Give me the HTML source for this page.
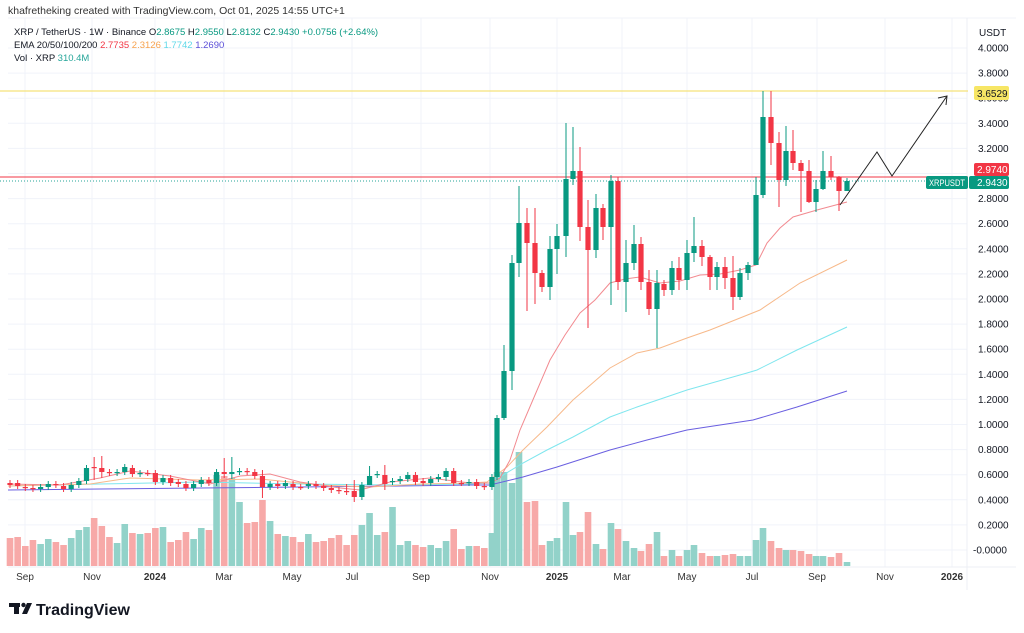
<!DOCTYPE html>
<html><head><meta charset="utf-8">
<style>
html,body{margin:0;padding:0;background:#fff;}
body{width:1024px;height:633px;overflow:hidden;position:relative;font-family:"Liberation Sans",sans-serif;}
svg{position:absolute;left:0;top:0;}
</style></head>
<body>
<svg id="s" width="1024" height="633" viewBox="0 0 1024 633" xmlns="http://www.w3.org/2000/svg" font-family="Liberation Sans, sans-serif">
<rect x="0" y="0" width="1024" height="633" fill="#fff"/>
<g id="grid" stroke="#f0f3fa" stroke-width="1"></g>
<line x1="8" y1="18" x2="1016" y2="18" stroke="#f0f3fa"/>
<line x1="967" y1="18" x2="967" y2="590" stroke="#eceff4"/>
<line x1="8" y1="567" x2="1016" y2="567" stroke="#eceff4"/>
<g id="vol"></g>
<line x1="0" y1="91" x2="968" y2="91" stroke="#f5e27a" stroke-width="1.2"/>
<line x1="0" y1="177" x2="968" y2="177" stroke="#f23645" stroke-width="1.3" opacity="0.8"/>
<line x1="0" y1="181" x2="968" y2="181" stroke="#26a69a" stroke-width="1" stroke-dasharray="1 2"/>
<g id="ema" fill="none" stroke-width="1"></g>
<g id="candles"></g>
<polyline points="840,205 877,152 892,176 947,96" fill="none" stroke="#222" stroke-width="1"/>
<polyline points="938,98 947,96 946,105" fill="none" stroke="#222" stroke-width="1"/>
<g id="axis" font-size="10" fill="#131722"></g>
<text x="979" y="36" font-size="10" fill="#131722">USDT</text>
<rect x="974" y="86" width="35" height="14" rx="2" fill="#f7e665"/>
<text x="977" y="97" font-size="10" fill="#131722">3.6529</text>
<rect x="974" y="163" width="35" height="13" rx="2" fill="#f23645"/>
<text x="977" y="173" font-size="10" fill="#fff">2.9740</text>
<rect x="926" y="176" width="42" height="13" rx="2" fill="#089981"/>
<text x="929" y="186" font-size="9.5" fill="#fff" textLength="36" lengthAdjust="spacingAndGlyphs">XRPUSDT</text>
<rect x="969" y="176" width="40" height="13" rx="2" fill="#089981"/>
<text x="977" y="186" font-size="10" fill="#fff">2.9430</text>
<g id="time" font-size="10" fill="#333" text-anchor="middle"></g>
<text x="8" y="14" font-size="10.5" fill="#333">khafretheking created with TradingView.com, Oct 01, 2025 14:55 UTC+1</text>
<text x="14" y="35" font-size="9.5" fill="#131722">XRP / TetherUS · 1W · Binance  O<tspan fill="#089981">2.8675</tspan>  H<tspan fill="#089981">2.9550</tspan>  L<tspan fill="#089981">2.8132</tspan>  C<tspan fill="#089981">2.9430</tspan>  <tspan fill="#089981">+0.0756 (+2.64%)</tspan></text>
<text x="14" y="48" font-size="9.5" fill="#131722">EMA 20/50/100/200  <tspan fill="#f23645">2.7735</tspan>  <tspan fill="#f7a24e">2.3126</tspan>  <tspan fill="#5fd8e8">1.7742</tspan>  <tspan fill="#5b4fd8">1.2690</tspan></text>
<text x="14" y="61" font-size="9.5" fill="#131722">Vol · XRP  <tspan fill="#26a69a">310.4M</tspan></text>
<g fill="#131722">
<rect x="9" y="603" width="11" height="4"/>
<rect x="14" y="603" width="5" height="11"/>
<circle cx="23.5" cy="605" r="2.2"/>
<polygon points="27,603 32,603 27,614 22,614"/>
</g>
<text x="36" y="615" font-size="16" font-weight="bold" fill="#131722">TradingView</text>
</svg>
<script>
var NS="http://www.w3.org/2000/svg";
function el(p,t,a){var e=document.createElementNS(NS,t);for(var k in a)e.setAttribute(k,a[k]);document.getElementById(p).appendChild(e);return e;}
[25,92,155,224,292,352,421,490,557,622,687,752,817,885,952].forEach(function(x){el("grid","line",{x1:x,y1:18,x2:x,y2:567});});
for(var p=0;p<=20;p++){var y=550-p*25.1;el("grid","line",{x1:8,y1:y,x2:967,y2:y});}
var labs=["-0.0000","0.2000","0.4000","0.6000","0.8000","1.0000","1.2000","1.4000","1.6000","1.8000","2.0000","2.2000","2.4000","2.6000","2.8000","3.0000","3.2000","3.4000","3.6000","3.8000","4.0000"];
labs.forEach(function(l,i){if(i==15)return;var y=550-i*25.1;var t=el("axis","text",{x:l[0]=="-"?973:978,y:y+3.5});t.textContent=l;});
[[25,"Sep"],[92,"Nov"],[155,"2024",1],[224,"Mar"],[292,"May"],[352,"Jul"],[421,"Sep"],[490,"Nov"],[557,"2025",1],[622,"Mar"],[687,"May"],[752,"Jul"],[817,"Sep"],[885,"Nov"],[952,"2026",1]].forEach(function(a){var t=el("time","text",{x:a[0],y:580});if(a[2])t.setAttribute("font-weight","bold");t.textContent=a[1];});
var early=[[483,485],[483,486],[487,488],[488,489],[489,487],[487,484],[484,485],[486,489],[489,485],[485,481],[481,468],[467,467],[468,472],[472,473],[473,472],[472,467],[468,474],[474,473],[473,473],[473,482],[482,478],[478,483],[482,484],[484,488],[488,484],[484,480],[480,483],[483,472],[472,474],[474,472],[472,471],[471,472],[472,476],[476,487],[487,484],[484,486],[486,483],[484,487],[487,487],[486,484],[484,486],[486,488],[488,490],[490,491],[491,491],[491,497],[497,485],[485,476],[475,474],[475,484],[482,481],[481,479],[479,475],[475,482],[481,483],[483,479],[479,477],[477,471],[471,483],[483,483],[483,482],[482,486],[486,487],[487,477]];
var ewick={11:[457,480],12:[456,478],28:[458,478],29:[457,479],33:[470,498],45:[480,502],47:[466,485],49:[465,490],44:[484,495],57:[468,481]};
var C=[];
early.forEach(function(c,i){var x=10+7.65*i;var h=Math.min(c[0],c[1])-3,l=Math.max(c[0],c[1])+3;if(ewick[i]){h=ewick[i][0];l=ewick[i][1];}C.push([x,c[0],c[1],h,l]);});
var late=[[497,477,418,415,480],[504,418,371,345,420],[512,371,263,255,390],[519,263,223,186,277],[527,223,243,208,311],[535,243,273,208,304],[542,273,287,270,292],[550,287,249,236,300],[557,249,236,224,274],[566,236,179,123,257],[573,179,171,127,185],[580,171,227,147,241],[588,227,250,200,328],[596,250,208,194,258],[603,208,227,204,240],[611,227,181,175,305],[618,181,282,177,290],[626,282,263,240,312],[634,263,244,225,270],[641,244,282,237,290],[649,282,309,270,315],[657,309,283,270,348],[664,284,290,280,296],[672,290,268,261,295],[679,268,280,257,290],[687,280,253,240,290],[694,253,246,217,262],[702,246,257,240,266],[710,257,277,255,290],[717,277,267,262,290],[725,267,278,257,289],[733,278,297,256,310],[740,297,273,268,300],[748,273,265,262,280],[756,265,195,177,265],[763,195,117,91,198],[771,117,143,91,165],[779,143,180,132,207],[786,180,151,126,186],[793,151,163,130,170],[801,163,171,160,212],[809,171,202,160,203],[816,202,189,180,212],[823,189,171,151,190],[831,171,177,156,180],[839,177,191,176,211],[847,191,181,178,191]];
late.forEach(function(c){C.push(c);});
var ev=[538,537,546,540,544,539,542,545,538,530,527,518,526,537,543,524,533,534,533,528,527,542,540,532,539,528,530,475,476,478,502,523,522,500,521,534,536,537,542,534,542,541,538,535,545,535,525,513,535,532,507,545,541,545,547,545,548,541,529,549,546,546,548,533];
var lv=[472,472,483,452,502,501,545,541,538,502,535,532,512,544,549,523,529,541,548,551,544,532,556,550,556,550,545,553,556,556,555,554,556,556,540,528,541,548,550,550,551,554,556,556,557,553,562];
var V=ev.concat(lv);
C.forEach(function(c,i){var up=c[2]<c[1];var vy=V[i]||545;el("vol","rect",{x:c[0]-3.3,y:vy,width:6.6,height:566-vy,fill:up?"#92d2c9":"#f7a9a8"});});
C.forEach(function(c){var up=c[2]<c[1];var col=up?"#089981":"#f23645";el("candles","line",{x1:c[0],y1:c[3],x2:c[0],y2:c[4],stroke:col,"stroke-width":1});var t=Math.min(c[1],c[2]),b=Math.max(c[1],c[2]);el("candles","rect",{x:c[0]-2.6,y:t,width:5.2,height:Math.max(b-t,1.2),fill:col});});
function pl(pts,col){el("ema","polyline",{points:pts,stroke:col});}
pl("8,490 100,489 200,488 300,487 400,486 470,485 490,485 523,477 557,467 610,450 647,440 687,430 753,420 797,407 847,391","#6a5fe0");
pl("8,486 100,484 200,482 300,484 400,485 470,484 490,483 523,463 547,450 573,437 610,417 637,407 687,390 747,373 757,370 797,350 847,327","#7fe6ee");
pl("8,486 90,484 130,478 200,480 260,479 320,485 370,487 420,484 470,483 487,482 507,467 523,450 547,427 573,400 610,368 637,353 660,348 687,338 710,330 760,310 800,283 847,260","#f7b98a");
pl("8,484 60,485 100,478 130,471 170,476 210,484 240,476 270,474 300,482 340,488 360,490 390,482 430,478 470,483 490,483 500,478 510,460 520,430 535,395 550,360 565,335 580,313 595,300 610,283 625,279 640,277 660,283 680,281 700,275 720,274 740,270 756,265 767,243 780,228 793,217 817,210 847,202","#f28a90");
</script>
</body></html>
